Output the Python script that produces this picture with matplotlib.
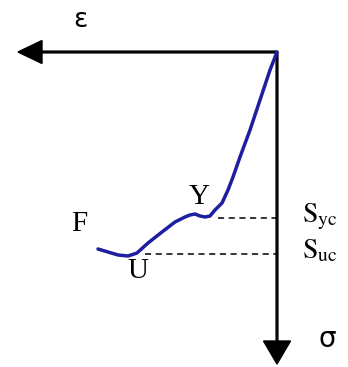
import matplotlib
matplotlib.use("Agg")
import matplotlib.pyplot as plt

# Curve (strain to the left, stress downward), origin at axes corner
strain = [0, 7, 17, 27, 37, 44, 49, 55, 62, 67, 72, 77, 82, 87, 92, 102, 115, 129, 140, 149, 159, 169, 179]
stress = [0, 18, 48, 78, 105, 125, 138, 151, 158, 164, 165, 164, 162, 163, 165, 170, 180, 191, 201, 204, 203, 200, 197]

S_yc = 166
S_uc = 202
yc_start = 59
uc_start = 132

plt.rcParams["mathtext.fontset"] = "stix"

fig = plt.figure(figsize=(3.48, 3.67), dpi=100)
ax = fig.add_axes([0, 0, 1, 1])
ax.set_xlim(277, -71)
ax.set_ylim(315, -52)
ax.axis("off")

# axes arrows
ax.arrow(0, 0, 259, 0, width=1.8, head_width=23, head_length=24,
         length_includes_head=True, color="black")
ax.arrow(0, 0, 0, 312, width=1.8, head_width=27, head_length=23,
         length_includes_head=True, color="black")

# curve
ax.plot(strain, stress, color="#1e1ea0", lw=2.5, solid_capstyle="round",
        solid_joinstyle="round")

# dashed guide lines
ax.plot([yc_start, 0], [S_yc, S_yc], color="black", lw=1.1, ls=(0, (4, 3)))
ax.plot([uc_start, 0], [S_uc, S_uc], color="black", lw=1.1, ls=(0, (4, 3)))

serif = "Liberation Serif"
ax.text(277 - 79, 224 - 52, "F", family=serif, fontsize=21, ha="center", va="center")
ax.text(277 - 199, 197 - 52, "Y", family=serif, fontsize=21, ha="center", va="center")
ax.text(277 - 138, 271 - 52, "U", family=serif, fontsize=21, ha="center", va="center")

ax.text(277 - 302, 222 - 52, r"$\mathrm{S}_{\mathrm{yc}}$", fontsize=20, ha="left", va="baseline")
ax.text(277 - 302, 258 - 52, r"$\mathrm{S}_{\mathrm{uc}}$", fontsize=20, ha="left", va="baseline")

ax.text(277 - 80, 20 - 52, "ε", family="DejaVu Sans", fontsize=19, ha="center", va="center")
ax.text(277 - 327, 339 - 52, "σ", family="DejaVu Sans", fontsize=20, ha="center", va="center")

fig.savefig("out.png", dpi=100, facecolor="white")
